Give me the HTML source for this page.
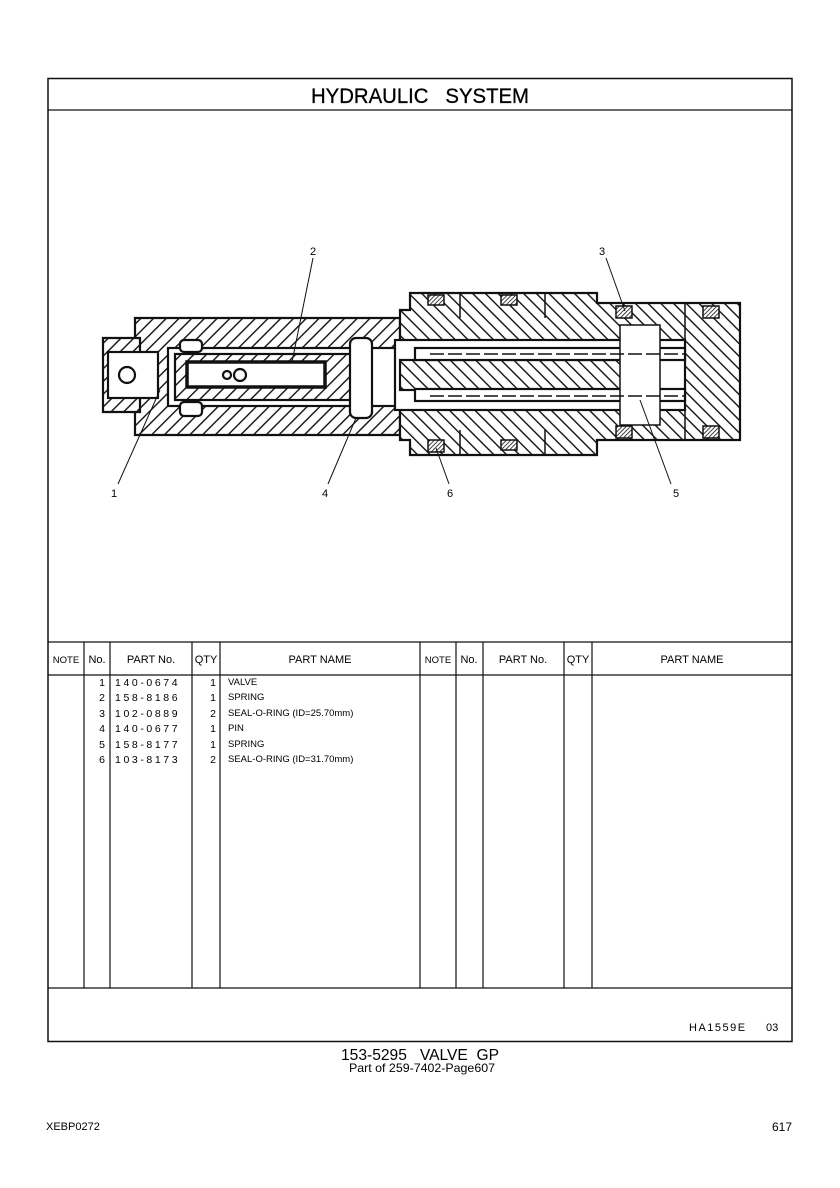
<!DOCTYPE html>
<html><head><meta charset="utf-8"><style>
html,body{margin:0;padding:0;background:#fff;}
body{width:840px;height:1188px;position:relative;overflow:hidden;font-family:"Liberation Sans",sans-serif;}
svg{position:absolute;left:0;top:0;}
text{white-space:pre;}
</style></head><body>
<svg width="840" height="1188" viewBox="0 0 840 1188" font-family="Liberation Sans, sans-serif">
<defs>
<pattern id="h" patternUnits="userSpaceOnUse" width="9" height="9" patternTransform="rotate(45)">
<rect width="9" height="9" fill="#fff"/><line x1="0" y1="0" x2="0" y2="9" stroke="#111" stroke-width="2.8"/></pattern>
<pattern id="h2" patternUnits="userSpaceOnUse" width="9" height="9" patternTransform="rotate(-45)">
<rect width="9" height="9" fill="#fff"/><line x1="0" y1="0" x2="0" y2="9" stroke="#111" stroke-width="2.8"/></pattern>
<pattern id="x" patternUnits="userSpaceOnUse" width="3" height="3" patternTransform="rotate(45)">
<rect width="3" height="3" fill="#fff"/><line x1="0" y1="0" x2="0" y2="3" stroke="#111" stroke-width="1.6"/></pattern>
</defs>
<rect x="48" y="78.5" width="744" height="963" fill="none" stroke="#111" stroke-width="1.5"/>
<line x1="48" y1="110" x2="792" y2="110" stroke="#111" stroke-width="1.3"/>
<text x="420" y="103" font-size="21" text-anchor="middle" textLength="218" lengthAdjust="spacingAndGlyphs" stroke="#000" stroke-width="0.3">HYDRAULIC   SYSTEM</text>

<g stroke="#111" stroke-width="2.2">
<path d="M135 318 H400 V435 H135 Z" fill="url(#h)"/>
<path d="M103 338 H140 V412 H103 Z" fill="url(#h)"/>
<rect x="108" y="352" width="50" height="46" fill="#fff"/>
<circle cx="127" cy="375" r="8" fill="#fff"/>
<rect x="168" y="348" width="230" height="58" fill="#fff"/>
<rect x="175" y="354" width="178" height="46" fill="url(#h)"/>
<rect x="187" y="362" width="138" height="25" fill="#fff" stroke-width="3.5"/>
<circle cx="227" cy="375" r="4" fill="#fff"/><circle cx="240" cy="375" r="6" fill="#fff"/>
<rect x="350" y="338" width="22" height="80" rx="6" fill="#fff"/>
<rect x="180" y="340" width="22" height="12" rx="4" fill="#fff"/>
<rect x="180" y="402" width="22" height="14" rx="4" fill="#fff"/>
<path d="M400 310 H410 V293 H597 V303 H740 V440 H597 V455 H410 V440 H400 Z" fill="url(#h2)"/>
<rect x="395" y="340" width="290" height="70" fill="#fff"/>
<rect x="400" y="360" width="240" height="30" fill="url(#h2)"/>
<rect x="415" y="348" width="270" height="12" fill="#fff"/>
<rect x="415" y="389" width="270" height="12" fill="#fff"/>
<rect x="620" y="325" width="40" height="100" fill="#fff" stroke-width="1.5"/>
<line x1="430" y1="354" x2="685" y2="354" stroke-dasharray="14 4" stroke-width="1.5"/>
<line x1="430" y1="396" x2="685" y2="396" stroke-dasharray="14 4" stroke-width="1.5"/>
<g fill="url(#x)" stroke-width="1.5">
<rect x="428" y="295" width="16" height="10"/><rect x="501" y="295" width="16" height="10"/>
<rect x="616" y="306" width="16" height="12"/><rect x="703" y="306" width="16" height="12"/>
<rect x="428" y="440" width="16" height="12"/><rect x="501" y="440" width="16" height="10"/>
<rect x="616" y="426" width="16" height="12"/><rect x="703" y="426" width="16" height="12"/>
</g>
<line x1="460" y1="293" x2="460" y2="318" stroke-width="1.5"/>
<line x1="545" y1="293" x2="545" y2="318" stroke-width="1.5"/>
<line x1="460" y1="430" x2="460" y2="455" stroke-width="1.5"/>
<line x1="545" y1="430" x2="545" y2="455" stroke-width="1.5"/>
<line x1="685" y1="303" x2="685" y2="440" stroke-width="1.5"/>
</g>
<g stroke="#111" stroke-width="1" fill="none">
<line x1="313" y1="258" x2="292" y2="362"/>
<line x1="606" y1="258" x2="625" y2="311"/>
<line x1="118" y1="484" x2="160" y2="390"/>
<line x1="328" y1="484" x2="356" y2="418"/>
<line x1="449" y1="484" x2="436" y2="448"/>
<line x1="671" y1="484" x2="640" y2="400"/>
</g>
<g font-size="11" text-anchor="middle">
<text x="313" y="255">2</text><text x="602" y="255">3</text>
<text x="114" y="497">1</text><text x="325" y="497">4</text>
<text x="450" y="497">6</text><text x="676" y="497">5</text>
</g>

<g stroke="#111" stroke-width="1.2">
<line x1="48" y1="642" x2="792" y2="642"/>
<line x1="48" y1="675" x2="792" y2="675"/>
<line x1="48" y1="988" x2="792" y2="988"/>
<line x1="84" y1="642" x2="84" y2="988"/><line x1="110" y1="642" x2="110" y2="988"/>
<line x1="192" y1="642" x2="192" y2="988"/><line x1="220" y1="642" x2="220" y2="988"/>
<line x1="420" y1="642" x2="420" y2="988"/><line x1="456" y1="642" x2="456" y2="988"/>
<line x1="483" y1="642" x2="483" y2="988"/><line x1="564" y1="642" x2="564" y2="988"/>
<line x1="592" y1="642" x2="592" y2="988"/>
</g>
<g font-size="11" text-anchor="middle">
<text x="66" y="663" font-size="9.5">NOTE</text><text x="97" y="663">No.</text>
<text x="151" y="663">PART No.</text><text x="206" y="663">QTY</text><text x="320" y="663">PART NAME</text>
<text x="438" y="663" font-size="9.5">NOTE</text><text x="469" y="663">No.</text>
<text x="523" y="663">PART No.</text><text x="578" y="663">QTY</text><text x="692" y="663">PART NAME</text>
</g>
<g font-size="10.5">
<g text-anchor="end">
<text x="105" y="686">1</text><text x="105" y="701">2</text><text x="105" y="717">3</text><text x="105" y="732">4</text><text x="105" y="748">5</text><text x="105" y="763">6</text>
<text x="216" y="686">1</text><text x="216" y="701">1</text><text x="216" y="717">2</text><text x="216" y="732">1</text><text x="216" y="748">1</text><text x="216" y="763">2</text>
</g>
<g letter-spacing="2.6">
<text x="115" y="686">140-0674</text><text x="115" y="701">158-8186</text><text x="115" y="717">102-0889</text>
<text x="115" y="732">140-0677</text><text x="115" y="748">158-8177</text><text x="115" y="763">103-8173</text>
</g>
<g font-size="9.5">
<text x="228" y="685">VALVE</text><text x="228" y="700">SPRING</text><text x="228" y="716">SEAL-O-RING (ID=25.70mm)</text>
<text x="228" y="731">PIN</text><text x="228" y="747">SPRING</text><text x="228" y="762">SEAL-O-RING (ID=31.70mm)</text>
</g>
</g>
<text x="689" y="1031" font-size="11" letter-spacing="1.5">HA1559E</text>
<text x="766" y="1031" font-size="11">03</text>

<text x="420" y="1060" font-size="16" text-anchor="middle" textLength="158" lengthAdjust="spacingAndGlyphs">153-5295   VALVE  GP</text>
<text x="422" y="1072" font-size="12" text-anchor="middle" textLength="146" lengthAdjust="spacingAndGlyphs">Part of 259-7402-Page607</text>
<text x="46" y="1130" font-size="11">XEBP0272</text>
<text x="792" y="1131" font-size="12" text-anchor="end">617</text>
</svg>
</body></html>
